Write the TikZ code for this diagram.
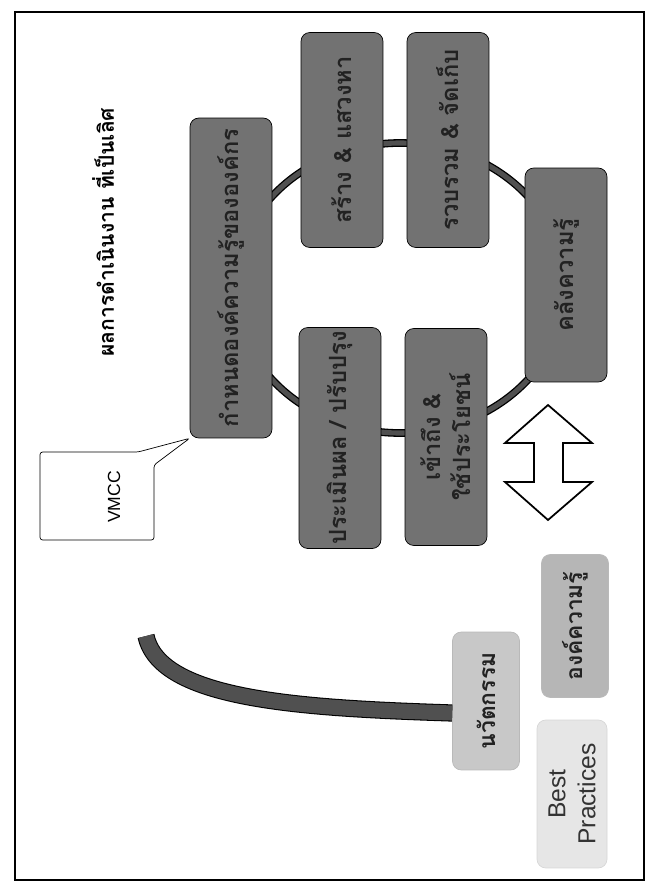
\documentclass[tikz,border=0pt]{standalone}
\usepackage{fontspec}
\setmainfont{Liberation Sans}
\newfontfamily\thaifont[Script=Thai]{Loma}
\usetikzlibrary{calc}
\definecolor{boxDark}{HTML}{727272}
\definecolor{textDark}{HTML}{222222}
\definecolor{ringGray}{HTML}{505050}
\definecolor{innovGray}{HTML}{C8C8C8}
\definecolor{kbodyGray}{HTML}{B6B6B6}
\definecolor{bestGray}{HTML}{E6E6E6}

\begin{document}
\begin{tikzpicture}[x=0.02cm, y=-0.02cm,
  stagebox/.style={draw=black, fill=boxDark, rounded corners=5pt, rotate=90,
                   minimum height=1.64cm, inner sep=2pt, align=center,
                   font=\thaifont\bfseries\fontsize{13.5}{17}\selectfont, text=textDark},
  softbox/.style={draw=gray!55, rounded corners=5pt, rotate=90,
                  minimum height=1.34cm, inner sep=2pt, align=center,
                  font=\thaifont\bfseries\fontsize{13}{17}\selectfont, text=textDark},
  ringline/.style={line width=4.4pt},
  bandline/.style={line width=9.8pt},
]
  \useasboundingbox (0,0) rectangle (659,892);
  \draw[line width=0.9pt] (15,12) rectangle (644,880);

  % title
  \node[rotate=90, font=\thaifont\bfseries\fontsize{12}{14}\selectfont] (title) at (103,232)
    {ผลการดำเนินงาน ที่เป็นเลิศ};

  % knowledge cycle (ring behind the boxes)
  \draw[ringline, black] (400,288) ellipse [x radius=165, y radius=145];
  \draw[ringline, ringGray, line width=2.9pt] (400,288) ellipse [x radius=165, y radius=145];

  \node[stagebox, minimum width=6.4cm] (knowdef) at (231,278) {กำหนดองค์ความรู้ขององค์กร};
  \node[stagebox, minimum width=4.3cm] (create) at (342,140) {สร้าง \& แสวงหา};
  \node[stagebox, minimum width=4.3cm] (collect) at (448,140) {รวบรวม \& จัดเก็บ};
  \node[stagebox, minimum width=4.36cm] (assess) at (340,438) {ประเมินผล / ปรับปรุง};
  \node[stagebox, minimum width=4.34cm] (access) at (446,437) {เข้าถึง \&\\ใช้ประโยชน์};
  \node[stagebox, minimum width=4.28cm] (store) at (566,275) {คลังความรู้};

  % callout
  \draw[fill=white, rounded corners=1.5pt] (40,452) -- (138,452) -- (knowdef.north west)
    -- (154,465) -- (154,540) -- (40,540) -- cycle;
  \node[rotate=90, font=\fontsize{10}{12}\selectfont] (vmcc) at (114,497) {VMCC};

  % double arrow
  \draw[fill=white, line width=1pt] (548,405) -- (592,443) -- (563,443) -- (563,482)
    -- (592,482) -- (548,520) -- (505,482) -- (534,482) -- (534,443) -- (505,443) -- cycle;

  % outcomes
  \node[softbox, fill=innovGray, minimum width=2.76cm] (innov) at (486,701) {นวัตกรรม};
  \node[softbox, fill=kbodyGray, minimum width=2.86cm] (kbody) at (575,626) {องค์ความรู้};
  \node[softbox, fill=bestGray, draw=bestGray!85!gray, minimum width=2.96cm, minimum height=1.4cm,
        font=\fontsize{14}{17}\selectfont, text=black!80] (bestp) at (572,794) {Best\\Practices};

  \coordinate (bandstart) at (146,636);
  \draw[bandline, black] (bandstart) .. controls (160,700) and (300,708) .. ($(innov.north)+(0,12)$);
  \draw[bandline, ringGray, line width=8.6pt] (bandstart) .. controls (160,700) and (300,708) .. ($(innov.north)+(0,12)$);
\end{tikzpicture}
\end{document}
